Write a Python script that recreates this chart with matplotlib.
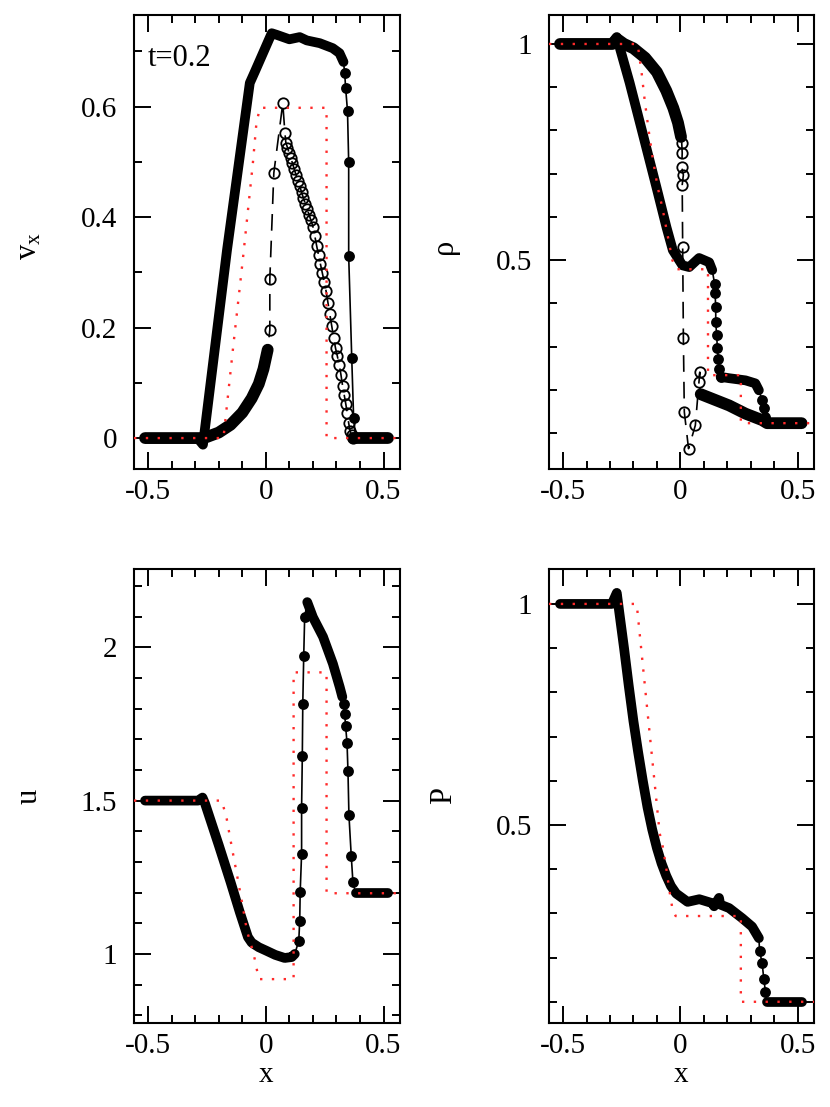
import numpy as np
import matplotlib.pyplot as plt
from matplotlib.ticker import MultipleLocator, FuncFormatter

plt.rcParams['font.family'] = ['Liberation Serif', 'DejaVu Serif']
plt.rcParams['mathtext.fontset'] = 'custom'
plt.rcParams['mathtext.rm'] = 'Liberation Serif'
plt.rcParams['mathtext.it'] = 'Liberation Serif:italic'

# ---- v_x panel ----
vx_exact_x = [-0.56, -0.18, -0.14, -0.097, -0.055, -0.04, -0.025, 0.258, 0.258, 0.57]
vx_exact_y = [0, 0, 0.16, 0.326, 0.498, 0.57, 0.598, 0.598, 0, 0]

vx_fill_band1_x = [-0.513, -0.29, -0.267, -0.165, -0.068, -0.047, 0.025, 0.047, 0.10, 0.144, 0.174, 0.229, 0.284, 0.313, 0.33]
vx_fill_band1_y = [0, 0, -0.012, 0.34, 0.643, 0.663, 0.733, 0.73, 0.722, 0.726, 0.72, 0.715, 0.706, 0.697, 0.681]
vx_fill_pts_x = [0.335, 0.339, 0.347, 0.352, 0.352, 0.365, 0.373]
vx_fill_pts_y = [0.661, 0.634, 0.592, 0.50, 0.33, 0.145, 0.036]
vx_fill_band2_x = [0.382, 0.517]
vx_fill_band2_y = [0, 0]

vx_open_band1_x = [-0.513, -0.28, -0.25, -0.2, -0.15, -0.1, -0.06, -0.03, -0.01, 0.008]
vx_open_band1_y = [0, 0, 0.002, 0.01, 0.024, 0.046, 0.072, 0.098, 0.125, 0.16]
vx_open_pts_x = [0.017, 0.017, 0.034, 0.072, 0.081, 0.085, 0.092, 0.099, 0.106, 0.113, 0.12, 0.128,
                 0.136, 0.144, 0.152, 0.16, 0.168, 0.176, 0.184, 0.192, 0.2, 0.208, 0.216, 0.224,
                 0.232, 0.24, 0.248, 0.256, 0.264, 0.272, 0.28, 0.288, 0.296, 0.304, 0.312, 0.319,
                 0.326, 0.333, 0.34, 0.346, 0.352, 0.358, 0.364, 0.37]
vx_open_pts_y = [0.196, 0.288, 0.48, 0.606, 0.553, 0.535, 0.526, 0.516, 0.507, 0.498, 0.488, 0.477,
                 0.466, 0.456, 0.445, 0.434, 0.424, 0.414, 0.404, 0.394, 0.383, 0.366, 0.348, 0.331,
                 0.315, 0.299, 0.283, 0.266, 0.245, 0.224, 0.203, 0.182, 0.163, 0.148, 0.132, 0.115,
                 0.095, 0.078, 0.061, 0.045, 0.027, 0.013, 0.005, 0.0]
vx_open_band2_x = [0.37, 0.517]
vx_open_band2_y = [0, 0]

# ---- density panel ----
rho_exact_x = [-0.56, -0.182, -0.165, -0.152, -0.135, -0.119, -0.097, -0.076, -0.055, -0.034, -0.017, 0.118, 0.118, 0.258, 0.258, 0.57]
rho_exact_y = [1.0, 1.0, 0.933, 0.87, 0.80, 0.74, 0.67, 0.62, 0.56, 0.50, 0.479, 0.479, 0.234, 0.234, 0.123, 0.123]

rho_fill_band1_x = [-0.513, -0.29, -0.271, -0.216, -0.161, -0.102, -0.059, -0.032, 0.009, 0.038, 0.08, 0.123, 0.136]
rho_fill_band1_y = [1.0, 1.0, 1.016, 0.91, 0.794, 0.669, 0.576, 0.523, 0.488, 0.484, 0.505, 0.495, 0.477]
rho_fill_pts_x = [0.146, 0.148, 0.151, 0.151, 0.155, 0.158, 0.162, 0.165, 0.172]
rho_fill_pts_y = [0.446, 0.424, 0.392, 0.357, 0.326, 0.296, 0.272, 0.249, 0.23]
rho_fill_band2_x = [0.172, 0.208, 0.278, 0.32, 0.335]
rho_fill_band2_y = [0.23, 0.227, 0.222, 0.215, 0.199]
rho_fill_pts2_x = [0.349, 0.356, 0.363]
rho_fill_pts2_y = [0.176, 0.157, 0.138]
rho_fill_band3_x = [0.37, 0.517]
rho_fill_band3_y = [0.124, 0.124]

rho_open_band1_x = [-0.513, -0.29, -0.271, -0.24, -0.2, -0.15, -0.1, -0.06, -0.03, -0.01, 0.003]
rho_open_band1_y = [1.0, 1.0, 1.012, 1.0, 0.99, 0.968, 0.935, 0.892, 0.852, 0.818, 0.785]
rho_open_pts_x = [0.006, 0.008, 0.006, 0.013, 0.008, 0.01, 0.013, 0.017, 0.035, 0.064, 0.083, 0.08]
rho_open_pts_y = [0.771, 0.748, 0.715, 0.697, 0.674, 0.531, 0.321, 0.149, 0.064, 0.118, 0.241, 0.218]
rho_open_band2_x = [0.087, 0.208, 0.278, 0.349, 0.37, 0.517]
rho_open_band2_y = [0.19, 0.164, 0.145, 0.13, 0.123, 0.123]

# ---- internal energy panel ----
u_exact_x = [-0.56, -0.187, -0.166, -0.144, -0.123, -0.10, -0.08, -0.059, -0.047, -0.03, 0.118, 0.118, 0.258, 0.258, 0.57]
u_exact_y = [1.5, 1.5, 1.44, 1.346, 1.26, 1.163, 1.075, 1.02, 0.983, 0.918, 0.918, 1.918, 1.918, 1.198, 1.198]

u_band1_x = [-0.513, -0.288, -0.269, -0.258, -0.2, -0.15, -0.11, -0.076, -0.06, -0.03, 0.004, 0.04, 0.08, 0.11, 0.123]
u_band1_y = [1.5, 1.5, 1.51, 1.49, 1.355, 1.235, 1.135, 1.055, 1.037, 1.022, 1.01, 0.997, 0.987, 0.99, 1.0]
u_pts1_x = [0.14, 0.144, 0.146, 0.152, 0.152, 0.155, 0.157, 0.161, 0.165]
u_pts1_y = [1.043, 1.108, 1.203, 1.327, 1.477, 1.644, 1.814, 1.971, 2.098]
u_band2_x = [0.176, 0.2, 0.243, 0.285, 0.314, 0.325]
u_band2_y = [2.147, 2.098, 2.034, 1.946, 1.87, 1.838]
u_pts2_x = [0.331, 0.335, 0.339, 0.345, 0.349, 0.353, 0.363, 0.37]
u_pts2_y = [1.815, 1.783, 1.742, 1.688, 1.595, 1.454, 1.318, 1.235]
u_band3_x = [0.381, 0.517]
u_band3_y = [1.2, 1.2]

# ---- pressure panel ----
P_exact_x = [-0.56, -0.186, -0.137, -0.088, -0.075, -0.061, -0.047, -0.033, -0.02, 0.258, 0.258, 0.57]
P_exact_y = [1, 1, 0.74, 0.481, 0.451, 0.406, 0.353, 0.308, 0.294, 0.294, 0.1, 0.1]

P_band1_x = [-0.513, -0.292, -0.271, -0.26, -0.24, -0.22, -0.2, -0.18, -0.16, -0.14, -0.12, -0.1,
             -0.08, -0.06, -0.04, -0.018, 0.031, 0.081, 0.137, 0.144, 0.165, 0.17, 0.208, 0.264, 0.306, 0.335]
P_band1_y = [1.0, 1.0, 1.025, 0.98, 0.9, 0.815, 0.735, 0.665, 0.6, 0.54, 0.49, 0.448,
             0.413, 0.385, 0.362, 0.345, 0.326, 0.332, 0.323, 0.316, 0.335, 0.32, 0.312, 0.289, 0.27, 0.244]
P_pts_x = [0.338, 0.349, 0.356, 0.363]
P_pts_y = [0.215, 0.187, 0.151, 0.123]
P_band2_x = [0.37, 0.517]
P_band2_y = [0.1, 0.1]


def particles(ax, pieces, hollow):
    xs = np.concatenate([np.asarray(p[0], float) for p in pieces])
    ys = np.concatenate([np.asarray(p[1], float) for p in pieces])
    ls = (0, (10, 6)) if hollow else '-'
    ax.plot(xs, ys, color='k', lw=1.2, ls=ls, zorder=2)
    for x, y, dense in pieces:
        if dense:
            ax.plot(x, y, color='k', lw=8.5 if hollow else 7.0,
                    solid_capstyle='round', solid_joinstyle='round', zorder=3)
        else:
            ax.plot(x, y, ls='none', marker='o', ms=7.5 if hollow else 6.5,
                    mfc='none' if hollow else 'k', mec='k', mew=1.3, zorder=3)


def exact(ax, x, y):
    ax.plot(x, y, color='#ff2a2a', lw=1.7, ls=(0, (1, 4)), zorder=5)


def style(ax, ylim, ymajor, yminor):
    ax.set_xlim(-0.56, 0.57)
    ax.set_ylim(*ylim)
    ax.xaxis.set_major_locator(MultipleLocator(0.5))
    ax.xaxis.set_minor_locator(MultipleLocator(0.1))
    ax.yaxis.set_major_locator(MultipleLocator(ymajor))
    ax.yaxis.set_minor_locator(MultipleLocator(yminor))
    fmt = FuncFormatter(lambda v, p: '%g' % round(v, 3))
    ax.xaxis.set_major_formatter(fmt)
    ax.yaxis.set_major_formatter(fmt)
    ax.tick_params(which='both', direction='in', top=True, right=True, width=1.4, labelsize=21)
    ax.tick_params(which='major', length=12)
    ax.tick_params(which='minor', length=6)
    ax.tick_params(axis='x', pad=7)
    ax.tick_params(axis='y', pad=12)
    for s in ax.spines.values():
        s.set_linewidth(1.5)


W, H = 830, 1107
fig = plt.figure(figsize=(W / 100, H / 100), dpi=100)


def box(l, t, r, b):
    return [l / W, 1 - b / H, (r - l) / W, (b - t) / H]


ax1 = fig.add_axes(box(134, 15, 400, 469))
ax2 = fig.add_axes(box(549, 15, 814, 469))
ax3 = fig.add_axes(box(134, 569, 400, 1023))
ax4 = fig.add_axes(box(549, 569, 814, 1023))

# v_x
particles(ax1, [(vx_open_band1_x, vx_open_band1_y, True), (vx_open_pts_x, vx_open_pts_y, False),
                (vx_open_band2_x, vx_open_band2_y, True)], hollow=True)
particles(ax1, [(vx_fill_band1_x, vx_fill_band1_y, True), (vx_fill_pts_x, vx_fill_pts_y, False),
                (vx_fill_band2_x, vx_fill_band2_y, True)], hollow=False)
exact(ax1, vx_exact_x, vx_exact_y)
style(ax1, (-0.056, 0.766), 0.2, 0.1)
ax1.text(0.05, 0.905, 't=0.2', transform=ax1.transAxes, fontsize=22, va='center', ha='left')

# density
particles(ax2, [(rho_open_band1_x, rho_open_band1_y, True), (rho_open_pts_x, rho_open_pts_y, False),
                (rho_open_band2_x, rho_open_band2_y, True)], hollow=True)
particles(ax2, [(rho_fill_band1_x, rho_fill_band1_y, True), (rho_fill_pts_x, rho_fill_pts_y, False),
                (rho_fill_band2_x, rho_fill_band2_y, True), (rho_fill_pts2_x, rho_fill_pts2_y, False),
                (rho_fill_band3_x, rho_fill_band3_y, True)], hollow=False)
exact(ax2, rho_exact_x, rho_exact_y)
style(ax2, (0.017, 1.067), 0.5, 0.1)

# u
particles(ax3, [(u_band1_x, u_band1_y, True), (u_pts1_x, u_pts1_y, False),
                (u_band2_x, u_band2_y, True), (u_pts2_x, u_pts2_y, False),
                (u_band3_x, u_band3_y, True)], hollow=False)
exact(ax3, u_exact_x, u_exact_y)
style(ax3, (0.775, 2.255), 0.5, 0.1)

# P
particles(ax4, [(P_band1_x, P_band1_y, True), (P_pts_x, P_pts_y, False),
                (P_band2_x, P_band2_y, True)], hollow=False)
exact(ax4, P_exact_x, P_exact_y)
style(ax4, (0.052, 1.079), 0.5, 0.1)

# axis labels
fig.text(29 / W, 1 - 246 / H, r'v$_\mathrm{x}$', rotation=90, ha='center', va='center', fontsize=22)
fig.text(444 / W, 1 - 246 / H, 'ρ', rotation=90, ha='center', va='center', fontsize=22)
fig.text(29 / W, 1 - 796 / H, 'u', rotation=90, ha='center', va='center', fontsize=22)
fig.text(444 / W, 1 - 796 / H, 'P', rotation=90, ha='center', va='center', fontsize=22)
fig.text(266 / W, 1 - 1082 / H, 'x', ha='center', va='baseline', fontsize=21)
fig.text(681 / W, 1 - 1082 / H, 'x', ha='center', va='baseline', fontsize=21)

fig.savefig('out.png', dpi=100)
